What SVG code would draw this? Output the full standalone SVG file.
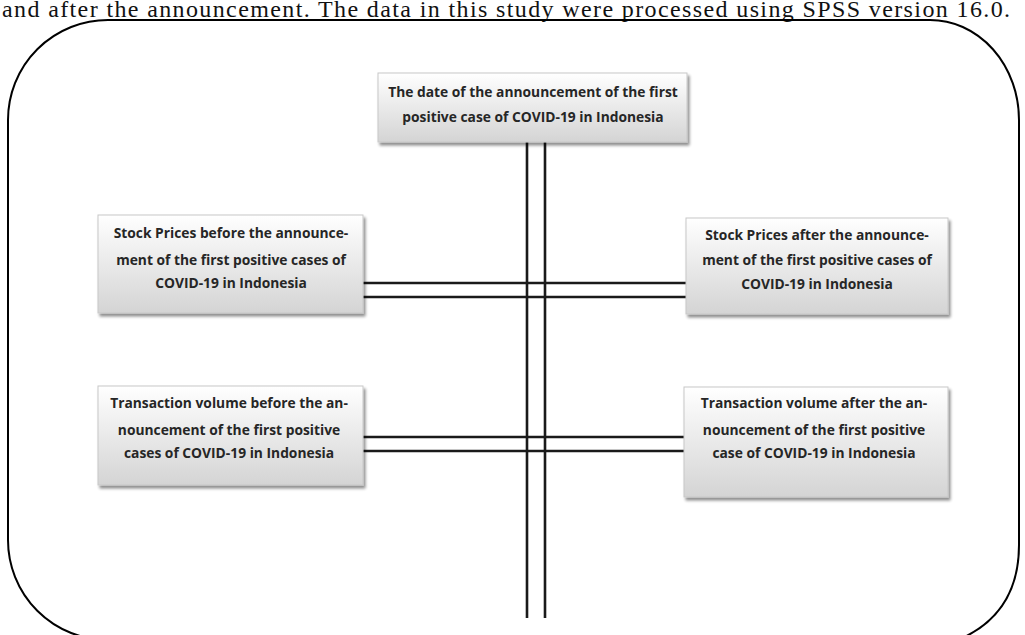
<svg xmlns="http://www.w3.org/2000/svg" width="1025" height="635" viewBox="0 0 1025 635">
<defs>
<linearGradient id="g" x1="0" y1="0" x2="0" y2="1">
<stop offset="0" stop-color="#ffffff"/>
<stop offset="1" stop-color="#d4d4d4"/>
</linearGradient>
<filter id="sh" x="-5%" y="-5%" width="112%" height="120%">
<feGaussianBlur in="SourceAlpha" stdDeviation="1.5"/>
<feOffset dx="2" dy="3" result="b"/>
<feComponentTransfer><feFuncA type="linear" slope="0.45"/></feComponentTransfer>
<feMerge><feMergeNode/><feMergeNode in="SourceGraphic"/></feMerge>
</filter>
</defs>
<style>
.box{fill:url(#g);stroke:#c8c8c8;stroke-width:1;filter:url(#sh)}
.t{font-family:"Open Sans",Lato,sans-serif;font-weight:bold;font-size:13.8px;fill:#262626;text-anchor:middle}
.c{stroke:#1a1a1a;stroke-width:2.6;fill:none}
.frame{fill:none;stroke:#000;stroke-width:2}
.top{font-family:"Liberation Serif",serif;font-size:24px;fill:#111}
</style>
<rect width="1025" height="635" fill="#fff"/>
<text class="top" x="2" y="17" textLength="1008" lengthAdjust="spacing">and after the announcement. The data in this study were processed using SPSS version 16.0.</text>
<path class="frame" d="M 8 540 L 8 120 A 100 100 0 0 1 108 20 L 930 20 A 89 100 0 0 1 1019 120 L 1019 545 C 1019 590 1000 622 958 640 M 8 540 A 100 100 0 0 0 108 640"/>
<g id="connectors">
<line class="c" x1="527" y1="142" x2="527" y2="618"/>
<line class="c" x1="545" y1="142" x2="545" y2="618"/>
<line class="c" x1="363" y1="283" x2="686" y2="283"/>
<line class="c" x1="363" y1="297" x2="686" y2="297"/>
<line class="c" x1="363" y1="437" x2="684" y2="437"/>
<line class="c" x1="363" y1="451" x2="684" y2="451"/>
</g>
<g id="n-date">
<rect class="box" x="378" y="73" width="309" height="69"/>
<text class="t" x="533" y="97">The date of the announcement of the first</text>
<text class="t" x="533" y="122">positive case of COVID-19 in Indonesia</text>
</g>
<g id="n-price-before">
<rect class="box" x="98" y="215" width="265" height="98"/>
<text class="t" x="231" y="238">Stock Prices before the announce-</text>
<text class="t" x="231" y="265">ment of the first positive cases of</text>
<text class="t" x="231" y="288">COVID-19 in Indonesia</text>
</g>
<g id="n-price-after">
<rect class="box" x="686" y="218" width="262" height="96"/>
<text class="t" x="817" y="240">Stock Prices after the announce-</text>
<text class="t" x="817" y="265">ment of the first positive cases of</text>
<text class="t" x="817" y="289">COVID-19 in Indonesia</text>
</g>
<g id="n-volume-before">
<rect class="box" x="98" y="386" width="265" height="99"/>
<text class="t" x="229" y="408">Transaction volume before the an-</text>
<text class="t" x="229" y="435">nouncement of the first positive</text>
<text class="t" x="229" y="458">cases of COVID-19 in Indonesia</text>
</g>
<g id="n-volume-after">
<rect class="box" x="684" y="387" width="264" height="110"/>
<text class="t" x="814" y="408">Transaction volume after the an-</text>
<text class="t" x="814" y="435">nouncement of the first positive</text>
<text class="t" x="814" y="458">case of COVID-19 in Indonesia</text>
</g>
</svg>
